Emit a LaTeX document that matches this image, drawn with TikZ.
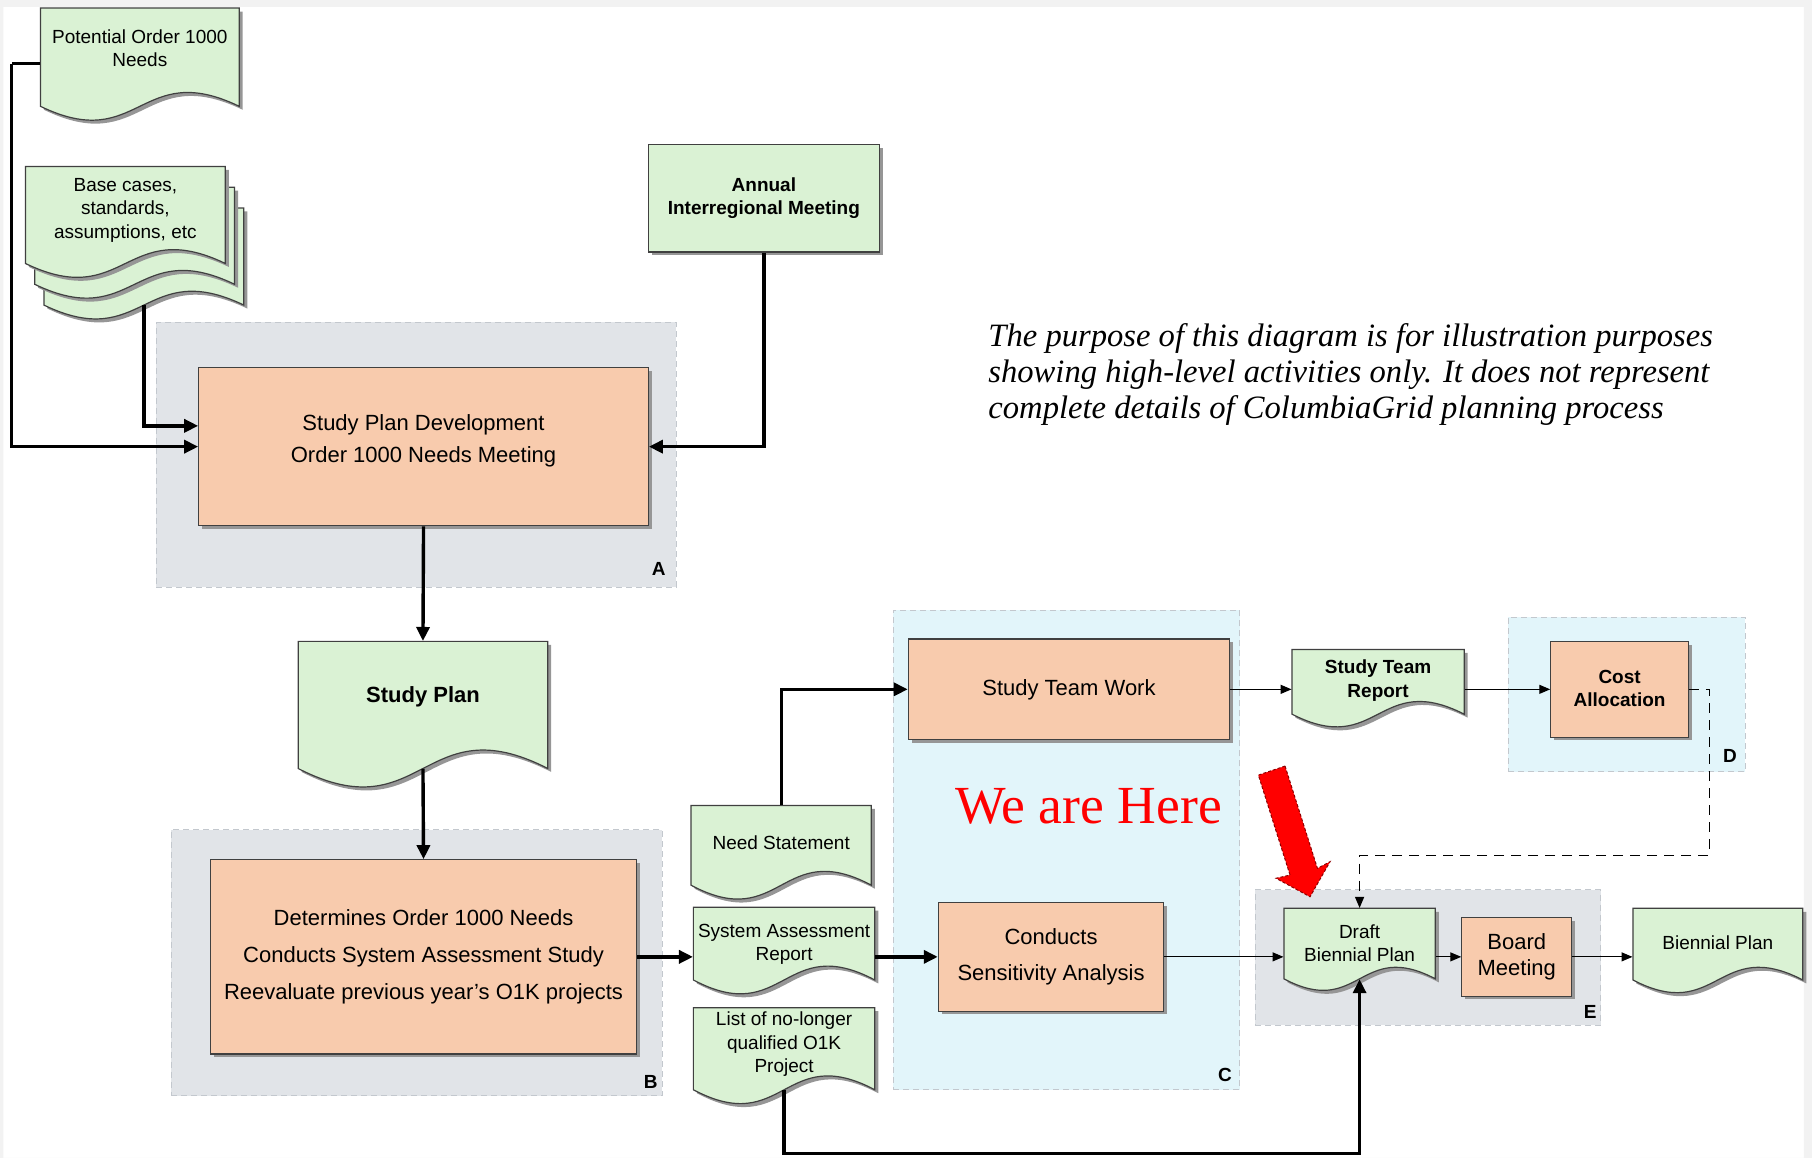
\documentclass[tikz,border=0pt]{standalone}
\usepackage{fontspec}
\setmainfont{Liberation Sans}
\newfontfamily\serifnote{Liberation Serif}
\usetikzlibrary{arrows.meta,calc,fit,shadows}

\definecolor{docgreen}{RGB}{218,242,212}
\definecolor{peach}{RGB}{248,203,173}
\definecolor{grpgray}{RGB}{225,228,232}
\definecolor{grpcyan}{RGB}{226,245,250}
\definecolor{grpline}{RGB}{195,200,206}
\definecolor{outline}{RGB}{64,64,64}
\definecolor{shadowc}{RGB}{150,150,150}
\definecolor{framec}{RGB}{242,242,242}

\tikzset{
  proc/.style={draw=outline, line width=0.6pt, fill=peach, inner sep=0pt,
    drop shadow={shadow xshift=1.6pt, shadow yshift=-1.6pt, fill=shadowc, opacity=1}},
  greenbox/.style={proc, fill=docgreen},
  boxtext/.style={align=center, inner sep=0pt},
  grpg/.style={draw=grpline, dash pattern=on 3pt off 2pt, line width=0.5pt, fill=grpgray, inner sep=0pt},
  grpc/.style={grpg, fill=grpcyan},
  grplab/.style={font=\bfseries\fontsize{9.5}{11}\selectfont, inner sep=0pt},
  doc/.style={draw=outline, line width=0.6pt, fill=docgreen},
  docshadow/.style={fill=shadowc},
  doctext/.style={align=center, inner sep=0pt, font=\fontsize{9.5}{11.6}\selectfont},
  docbold/.style={align=center, inner sep=0pt, font=\bfseries\fontsize{9.5}{11.6}\selectfont},
  thk/.style={line width=1.7pt, -{Triangle[length=7pt,width=6.5pt]}},
  thn/.style={line width=0.6pt, -{Triangle[length=5.5pt,width=4.5pt]}},
}

% #1 text style, #2 name, #3 x0, #4 y0, #5 x1, #6 yb, #7 amp, #8 text y, #9 text
\newcommand\docnode[9]{%
  \begin{scope}[shift={(3,3)}]
    \fill[docshadow] (#3,#4) -- (#5,#4) -- (#5,#6) .. controls ({(#3+#5)/2},{#6-3.46*#7}) and ({(#3+#5)/2},{#6+3.46*#7}) .. (#3,#6) -- cycle;
  \end{scope}
  \draw[doc] (#3,#4) -- (#5,#4) -- (#5,#6) .. controls ({(#3+#5)/2},{#6-3.46*#7}) and ({(#3+#5)/2},{#6+3.46*#7}) .. (#3,#6) -- cycle;
  \node[fit={(#3,#4) (#5,#6)}, inner sep=0pt] (#2) {};
  \node[#1] (#2-t) at ({(#3+#5)/2},#8) {#9};
}
% #1 box style, #2 name, #3 x0, #4 y0, #5 x1, #6 y1, #7 font, #8 text shift, #9 text
\newcommand\procbox[9]{%
  \node[#1, fit={(#3,#4) (#5,#6)}] (#2) {};
  \node[boxtext, font=#7] (#2-t) at ($(#2.center)+(0,#8)$) {#9};
}

\begin{document}
\begin{tikzpicture}[x=0.5778pt,y=-0.5778pt]
\useasboundingbox (0,0) rectangle (1568,1002);
\fill[framec, even odd rule] (0,0) rectangle (1568,1002) (3,6) rectangle (1561,1002);

% groups
\node[grpg, fit={(135,279) (585,508)}] (grpA) {};
\node[grpg, fit={(148,718) (573,948)}] (grpB) {};
\node[grpc, fit={(773,528) (1073,943)}] (grpC) {};
\node[grpc, fit={(1305,534) (1510,668)}] (grpD) {};
\node[grpg, fit={(1086,770) (1385,887)}] (grpE) {};
\node[grplab] (labA) at (570,492) {A};
\node[grplab] (labB) at (563,936) {B};
\node[grplab] (labC) at (1060,930) {C};
\node[grplab] (labD) at (1497,654) {D};
\node[grplab] (labE) at (1376,876) {E};

% documents
\docnode{doctext}{pot}{35}{7}{207}{92}{12}{42}{Potential Order 1000\\Needs}
\docnode{doctext}{base3}{38}{180}{211}{264}{12}{222}{}
\docnode{doctext}{base2}{30}{162}{203}{246}{12}{204}{}
\docnode{doctext}{base1}{22}{144}{195}{228}{12}{182}{Base cases,\\standards,\\assumptions, etc}
\docnode{docbold,font=\bfseries\fontsize{11}{13}\selectfont}{sp}{258}{555}{474}{665}{16}{603}{Study Plan}
\docnode{doctext}{need}{598}{697}{754}{766}{12}{729}{Need Statement}
\docnode{doctext}{sar}{600}{785}{757}{848}{12}{817}{System Assessment\\Report}
\docnode{doctext}{list}{600}{872}{757}{943}{12}{903.5}{List of no-longer\\qualified O1K\\Project}
\docnode{docbold}{str}{1118}{562}{1267}{618}{11}{589}{Study Team\\Report}
\docnode{doctext}{draft}{1111}{786}{1242}{847}{10}{816}{Draft\\Biennial Plan}
\docnode{doctext}{bp}{1413}{786}{1560}{848}{11}{816}{Biennial Plan}

% boxes
\procbox{greenbox}{ann}{561}{125}{761}{218}{\bfseries\fontsize{9.5}{11.6}\selectfont}{0}{Annual\\Interregional Meeting}
\procbox{proc}{boxA}{172}{318}{561}{455}{\fontsize{11}{15.6}\selectfont}{-5}{Study Plan Development\\Order 1000 Needs Meeting}
\procbox{proc}{boxB}{182}{744}{551}{912}{\fontsize{11}{18.5}\selectfont}{0}{Determines Order 1000 Needs\\Conducts System Assessment Study\\Reevaluate previous year's O1K projects}
\procbox{proc}{stw}{786}{553}{1064}{640}{\fontsize{11}{13}\selectfont}{0}{Study Team Work}
\procbox{proc}{csa}{812}{781}{1007}{875}{\fontsize{11}{18}\selectfont}{0}{Conducts\\Sensitivity Analysis}
\procbox{proc}{cost}{1342}{555}{1461}{638}{\bfseries\fontsize{9.5}{11.6}\selectfont}{-1}{Cost\\Allocation}
\procbox{proc}{board}{1265}{794}{1360}{862}{\fontsize{11}{13.3}\selectfont}{0}{Board\\Meeting}

% texts
\node[text=red, font=\serifnote\fontsize{26.8}{28}\selectfont, inner sep=0pt] (here) at (942,698) {We are Here};
\node[anchor=west, align=left, inner sep=0pt, font=\serifnote\itshape\fontsize{16.3}{17.9}\selectfont] (note) at (855,324)
  {The purpose of this diagram is for illustration purposes\\showing high-level activities only. It does not represent\\complete details of ColumbiaGrid planning process};

% connectors
\coordinate (potbend) at (10,55);
\draw[line width=1.7pt] ($(pot.west)+(0,5.5)$) -- (potbend);
\draw[thk] (potbend) |- (boxA.west);
\draw[thk] (base3.south) |- ($(boxA.west)+(0,-18)$);
\draw[thk] (ann.south) |- (boxA.east);
\draw[thk] (boxA.south) -- (sp.north);
\draw[thk] (sp.south) -- (boxB.north);
\draw[thk] (boxB.east) -- (boxB.east -| sar.west);
\draw[thk] (need.north) |- (stw.west);
\draw[thk] (sar.east |- csa.west) -- (csa.west);
\draw[thk] (list.south) -- ++(0,55) -| (draft.south);
\draw[thn] (stw.east) -- (stw.east -| str.west);
\draw[thn] (str.east |- cost.west) -- (cost.west);
\coordinate (dk) at (1479,740);
\draw[thn, dash pattern=on 5pt off 3.5pt] (cost.east) -| (dk) -| (draft.north);
\draw[thn] (csa.east) -- (csa.east -| draft.west);
\draw[thn] (draft.east |- board.west) -- (board.west);
\draw[thn] (board.east) -- (board.east -| bp.west);

% red block arrow
\fill[red, draw=red!55!black, line width=0.5pt, dash pattern=on 1.5pt off 1pt]
  (1112,662.9) -- (1140,751.4) -- (1150.9,745.7) -- (1133.6,776) -- (1104.2,760) -- (1116.3,757.2) -- (1088.9,670.7) -- cycle;
\end{tikzpicture}
\end{document}
